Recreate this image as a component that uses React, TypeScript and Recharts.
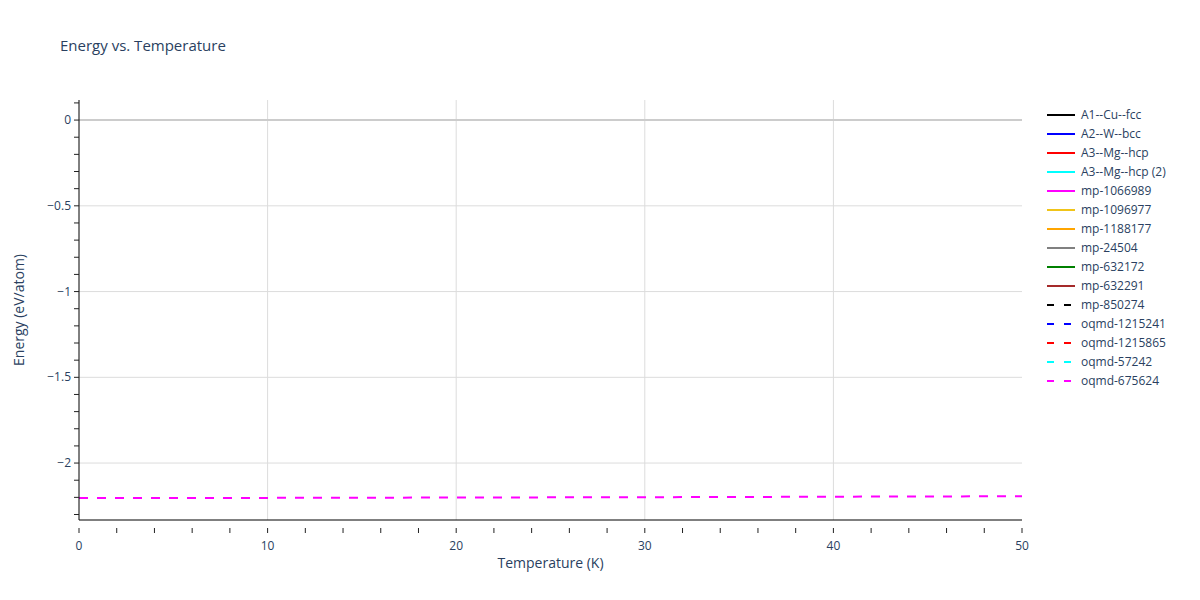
import React from "react"
import {
  LineChart,
  Line,
  XAxis,
  YAxis,
  CartesianGrid,
  ReferenceLine,
} from "recharts"

// temperatures (K) and energies (eV/atom)
const temperatures = [0, 5, 10, 15, 20, 25, 30, 35, 40, 45, 50]
const oqmd675624 = [-2.204, -2.204, -2.203, -2.202, -2.201, -2.2, -2.199, -2.198, -2.196, -2.195, -2.193]

const seriesNames = [
  "A1--Cu--fcc",
  "A2--W--bcc",
  "A3--Mg--hcp",
  "A3--Mg--hcp (2)",
  "mp-1066989",
  "mp-1096977",
  "mp-1188177",
  "mp-24504",
  "mp-632172",
  "mp-632291",
  "mp-850274",
  "oqmd-1215241",
  "oqmd-1215865",
  "oqmd-57242",
  "oqmd-675624",
]
const seriesColors = [
  "black", "blue", "red", "cyan", "magenta", "#f0c419", "orange", "gray",
  "green", "brown", "black", "blue", "red", "cyan", "magenta",
]
const seriesDashed = [
  false, false, false, false, false, false, false, false, false, false,
  true, true, true, true, true,
]

const xTicks = [0, 10, 20, 30, 40, 50]
const xMinor = [0, 2, 4, 6, 8, 10, 12, 14, 16, 18, 20, 22, 24, 26, 28, 30, 32, 34, 36, 38, 40, 42, 44, 46, 48, 50]
const yTicks = [0, -0.5, -1, -1.5, -2]
const yMinor = [0.1, 0, -0.1, -0.2, -0.3, -0.4, -0.5, -0.6, -0.7, -0.8, -0.9, -1, -1.1, -1.2, -1.3, -1.4, -1.5, -1.6, -1.7, -1.8, -1.9, -2, -2.1, -2.2, -2.3]

// only the last series has values in the picture; the rest stay empty
const data = temperatures.map((t, i) => {
  const row: Record<string, number | null> = { t }
  seriesNames.forEach((n) => (row[n] = null))
  row["oqmd-675624"] = oqmd675624[i]
  return row
})

const FONT = '"Open Sans", Verdana, Arial, sans-serif'
const TEXT = "#2a3f5f"
const Y_W = 60

const fmt = (v: number) => (v < 0 ? "\u2212" + String(Math.abs(v)) : String(v))

function XTick(props: any) {
  const { x, y, payload } = props
  const major = xTicks.includes(payload.value)
  return (
    <g>
      <line x1={x} x2={x} y1={y} y2={y + 5} stroke="#222" strokeWidth={1} />
      {major && (
        <text x={x} y={y + 22} textAnchor="middle" fontSize={12} fill={TEXT} fontFamily={FONT}>
          {fmt(payload.value)}
        </text>
      )}
    </g>
  )
}

function YTick(props: any) {
  const { y, payload } = props
  const x = 79
  const v = Math.round(payload.value * 10) / 10
  const major = yTicks.includes(v)
  return (
    <g>
      <line x1={x - 5} x2={x} y1={y} y2={y} stroke="#222" strokeWidth={1} />
      {major && (
        <text x={x - 8} y={y + 4} textAnchor="end" fontSize={12} fill={TEXT} fontFamily={FONT}>
          {fmt(v)}
        </text>
      )}
    </g>
  )
}

function LegendBox() {
  return (
    <div style={{ position: "absolute", left: 1047, top: 105, fontFamily: FONT, fontSize: 12, color: TEXT }}>
      {seriesNames.map((n, i) => (
        <div key={n} style={{ height: 19, display: "flex", alignItems: "center" }}>
          <svg width={30} height={10} style={{ marginRight: 4 }}>
            <line
              x1={0}
              x2={28}
              y1={5}
              y2={5}
              stroke={seriesColors[i]}
              strokeWidth={2}
              strokeDasharray={seriesDashed[i] ? "7 10" : undefined}
            />
          </svg>
          <span>{n}</span>
        </div>
      ))}
    </div>
  )
}

export default function App() {
  return (
    <div style={{ position: "absolute", left: 0, top: 0, width: 1200, height: 600, background: "#fff" }}>
      <div style={{ position: "absolute", left: 60, top: 35, fontFamily: FONT, fontSize: 15, color: TEXT }}>
        Energy vs. Temperature
      </div>
      <LineChart width={1200} height={600} data={data} margin={{ top: 100, right: 178, bottom: 0, left: 79 - Y_W }}>
        <CartesianGrid
          stroke="#dcdcdc"
          strokeWidth={1}
          horizontalValues={[-0.5, -1, -1.5, -2]}
          verticalValues={[10, 20, 30, 40]}
        />
        <ReferenceLine y={0} stroke="#cccccc" strokeWidth={2} />
        <XAxis
          dataKey="t"
          type="number"
          domain={[0, 50]}
          ticks={xMinor}
          interval={0}
          height={80}
          axisLine={{ stroke: "#000", strokeWidth: 1 }}
          tickLine={false}
          tick={<XTick />}
          label={{ value: "Temperature (K)", position: "insideTop", offset: 38, fontSize: 14, fill: TEXT, fontFamily: FONT }}
        />
        <YAxis
          type="number"
          domain={[-2.332, 0.117]}
          ticks={yMinor}
          interval={0}
          width={Y_W}
          allowDataOverflow
          axisLine={{ stroke: "#000", strokeWidth: 1 }}
          tickLine={false}
          tick={<YTick />}
        />
        {seriesNames.map((n, i) => (
          <Line
            key={n}
            dataKey={n}
            stroke={seriesColors[i]}
            strokeWidth={2}
            strokeDasharray={seriesDashed[i] ? "9 9" : undefined}
            dot={false}
            isAnimationActive={false}
          />
        ))}
      </LineChart>
      <div
        style={{
          position: "absolute",
          left: 18,
          top: 310,
          transform: "translate(-50%, -50%) rotate(-90deg)",
          fontFamily: FONT,
          fontSize: 14,
          color: TEXT,
          whiteSpace: "nowrap",
        }}
      >
        Energy (eV/atom)
      </div>
      <LegendBox />
    </div>
  )
}
